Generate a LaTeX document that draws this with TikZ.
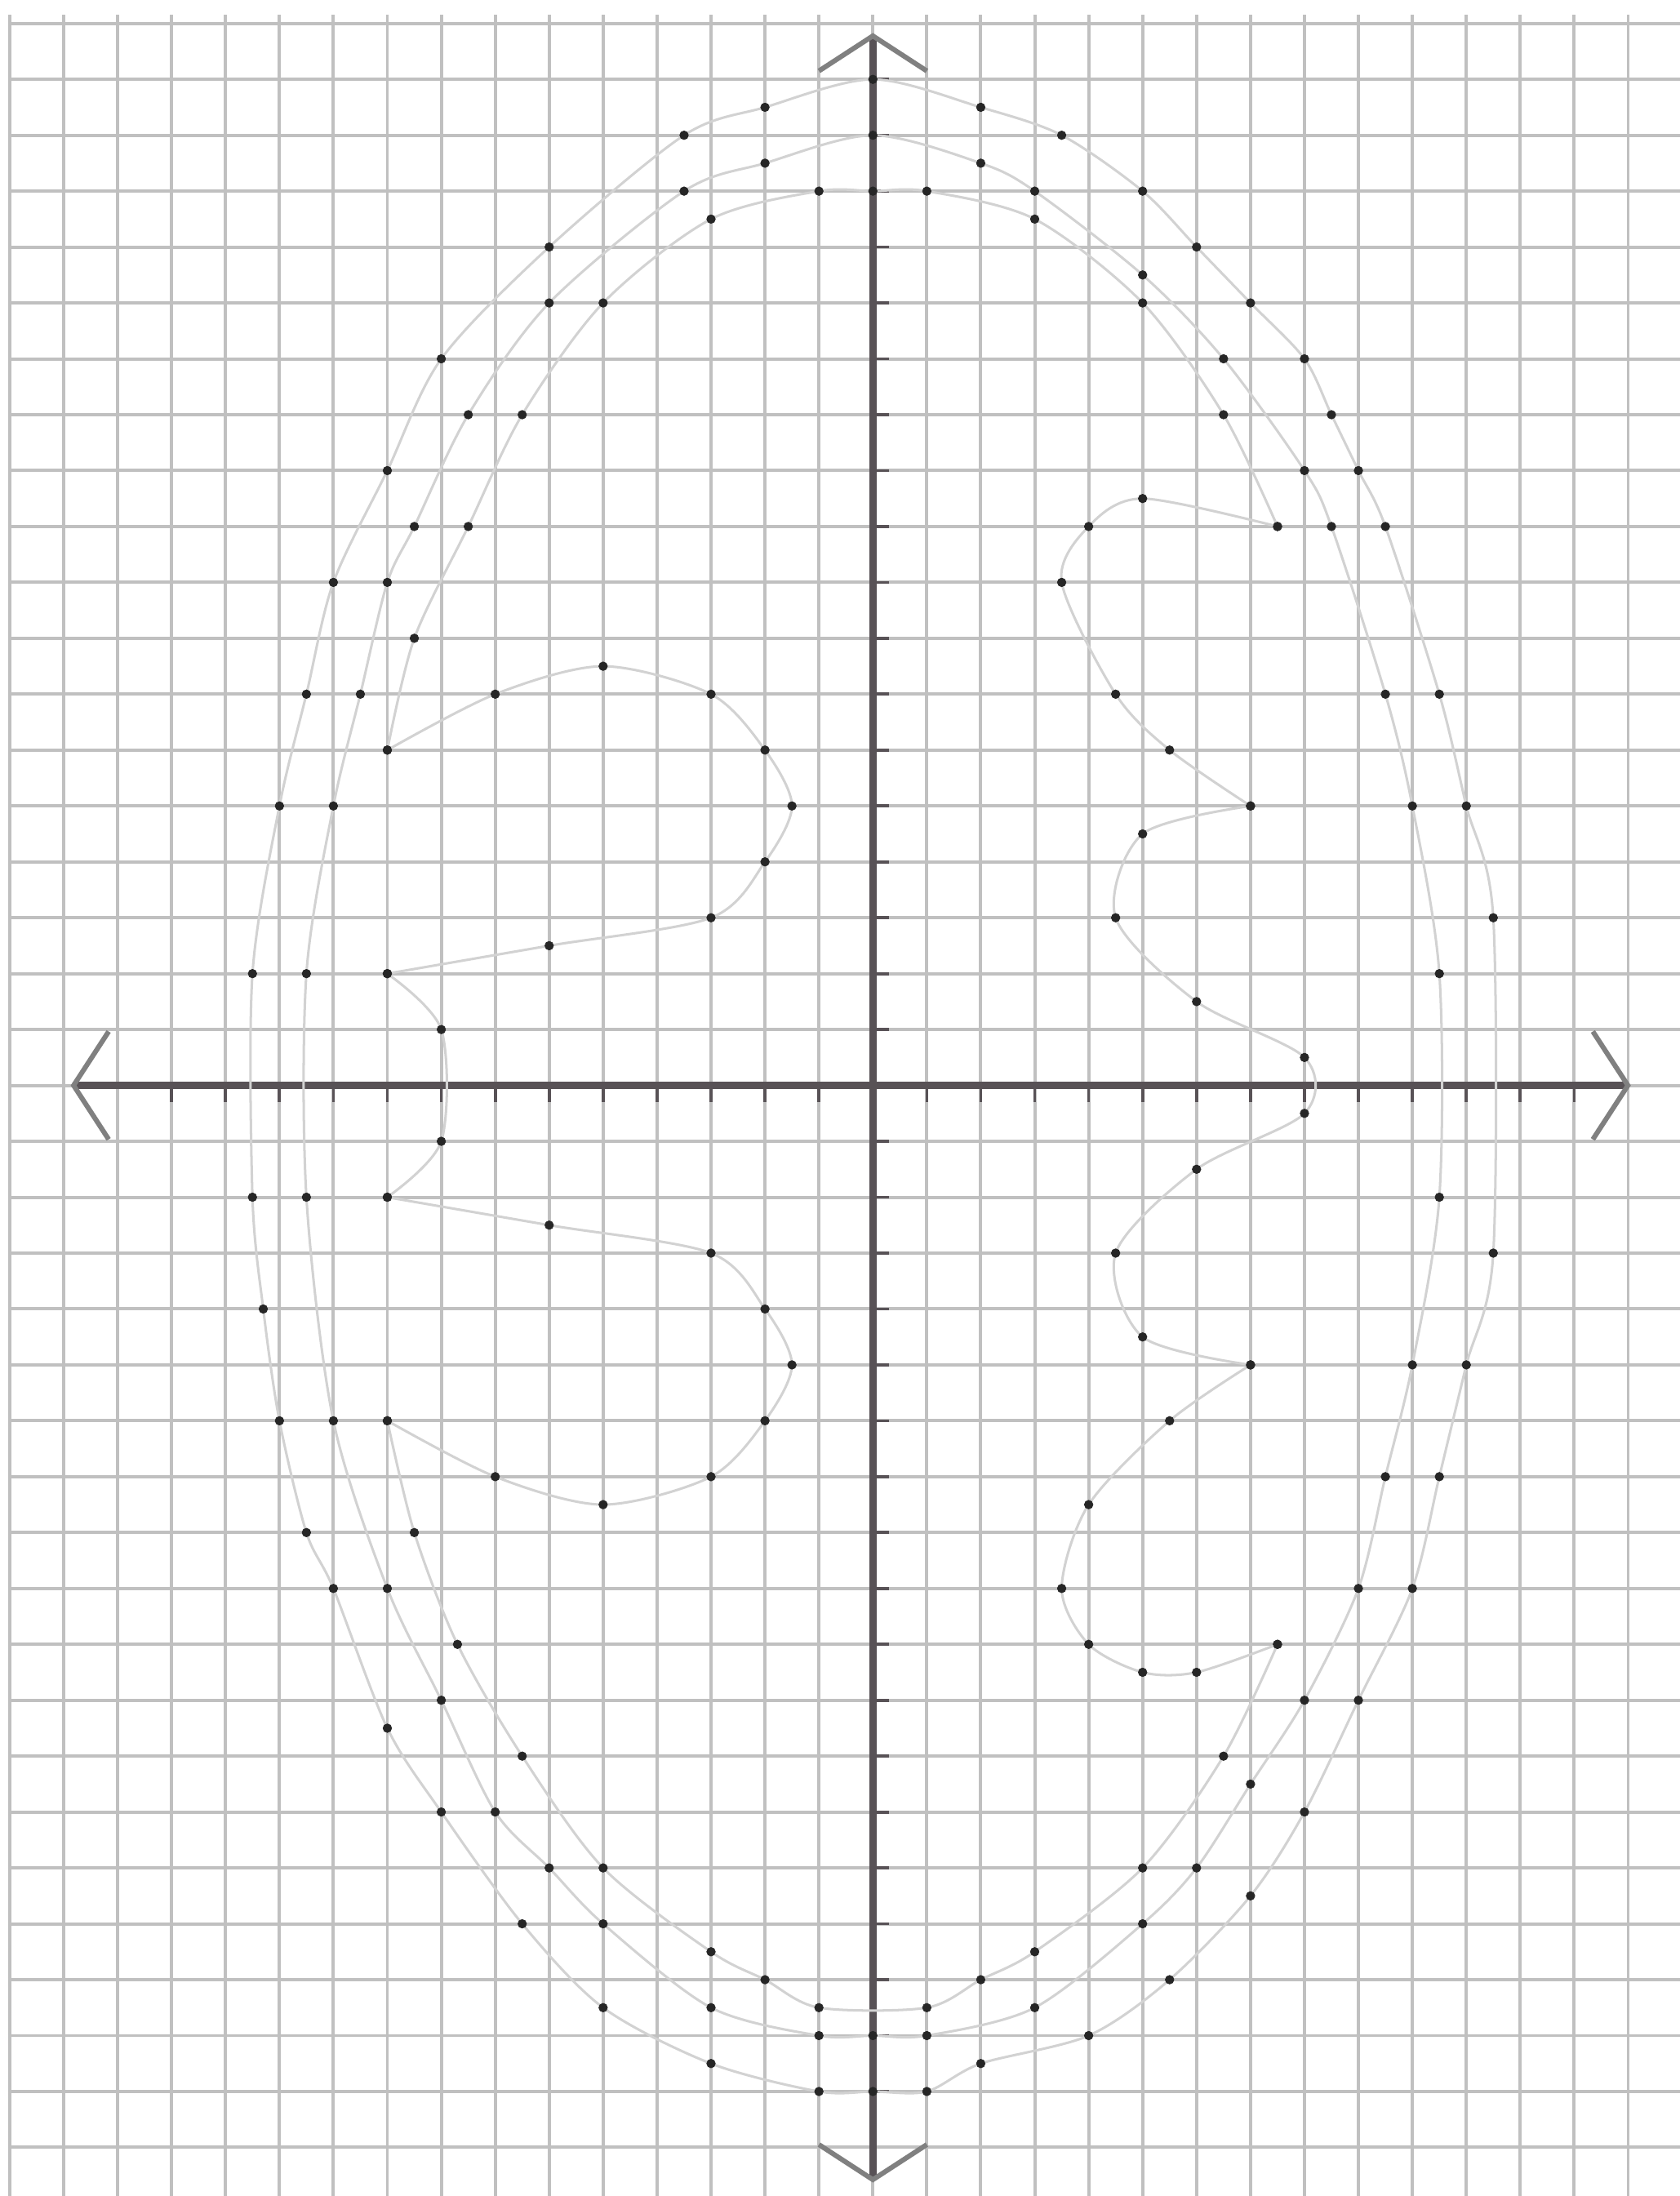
\documentclass[tikz,border=0pt]{standalone}
\usetikzlibrary{arrows.meta}

\definecolor{gridgray}{RGB}{192,192,192}
\definecolor{axisgray}{RGB}{88,82,86}
\definecolor{tipgray}{RGB}{128,128,128}
\definecolor{curvegray}{RGB}{210,210,210}

\tikzset{
    axistip/.tip={Straight Barb[length=6.5mm, width=20mm, line width=2.6pt, color=tipgray]},
}

\begin{document}
\begin{tikzpicture}[x=1cm, y=1.036cm,
        gridline/.style={draw=gridgray, line width=1.7pt},
        axisline/.style={draw=axisgray, line width=4pt, axistip-axistip},
        tickmark/.style={draw=axisgray, line width=1.6pt},
        curve/.style={draw=curvegray, line width=1.3pt, mark=*, mark size=0.8mm,
            mark options={draw=black!85, fill=black!85, line width=0.3pt}}]

    \useasboundingbox (-16.18,-19.87) rectangle (14.96,19.42);
    \fill[white] (-16.18,-19.87) rectangle (14.96,19.42);

    % grid
    \foreach \i in {-16,...,14}
        \draw[gridline] (\i,-19.87) -- (\i,19.15);
    \foreach \j in {-19,...,19}
        \draw[gridline] (-16,\j) -- (14.96,\j);

    % axes
    \draw[axisline] (-14.87,0) -- (14.05,0);
    \draw[axisline] (0,-19.63) -- (0,18.83);
    \foreach \i in {-13,...,-1,1,2,...,13}
        \draw[tickmark] (\i,0) -- (\i,-0.3);
    \foreach \j in {-18,...,-1,1,2,...,18}
        \draw[tickmark] (0,\j) -- (0.3,\j);

    % outer ring
    \draw[curve] plot[smooth cycle] coordinates {
        (0,18) (2,17.5) (3.5,17) (5,16) (6,15) (7,14) (8,13) (8.5,12) (9,11) (9.5,10)
        (10.5,7) (11,5) (11.5,3) (11.5,-3) (11,-5) (10.5,-7) (10,-9) (9,-11) (8,-13)
        (7,-14.5) (5.5,-16) (4,-17) (2,-17.5) (1,-18) (0,-18) (-1,-18) (-3,-17.5)
        (-5,-16.5) (-6.5,-15) (-8,-13) (-9,-11.5) (-10,-9) (-10.5,-8) (-11,-6)
        (-11.3,-4) (-11.5,-2) (-11.5,2) (-11,5) (-10.5,7) (-10,9) (-9,11) (-8,13)
        (-6,15) (-3.5,17) (-2,17.5)};

    % middle ring
    \draw[curve] plot[smooth cycle] coordinates {
        (0,17) (2,16.5) (3,16) (5,14.5) (6.5,13) (8,11) (8.5,10) (9.5,7) (10,5)
        (10.5,2) (10.5,-2) (10,-5) (9.5,-7) (9,-9) (8,-11) (7,-12.5) (6,-14) (5,-15)
        (3,-16.5) (1,-17) (0,-17) (-1,-17) (-3,-16.5) (-5,-15) (-6,-14) (-7,-13)
        (-8,-11) (-9,-9) (-10,-6) (-10.5,-2) (-10.5,2) (-10,5) (-9.5,7) (-9,9)
        (-8.5,10) (-7.5,12) (-6,14) (-3.5,16) (-2,16.5)};

    % inner outline with the loops
    \draw[curve] plot[smooth] coordinates {(7.5,10) (6.5,12) (5,14) (3,15.5) (1,16) (0,16)
        (-1,16) (-3,15.5) (-5,14) (-6.5,12) (-7.5,10) (-8.5,8) (-9,6)};
    \draw[curve] plot[smooth] coordinates {(-9,6) (-7,7) (-5,7.5) (-3,7) (-2,6) (-1.5,5)
        (-2,4) (-3,3) (-6,2.5) (-9,2)};
    \draw[curve] plot[smooth] coordinates {(-9,2) (-8,1) (-8,-1) (-9,-2)};
    \draw[curve] plot[smooth] coordinates {(-9,-2) (-6,-2.5) (-3,-3) (-2,-4) (-1.5,-5)
        (-2,-6) (-3,-7) (-5,-7.5) (-7,-7) (-9,-6)};
    \draw[curve] plot[smooth] coordinates {(-9,-6) (-8.5,-8) (-7.7,-10) (-6.5,-12) (-5,-14)
        (-3,-15.5) (-2,-16) (-1,-16.5) (1,-16.5) (2,-16) (3,-15.5) (5,-14) (6.5,-12) (7.5,-10)};
    \draw[curve] plot[smooth] coordinates {(7.5,-10) (6,-10.5) (5,-10.5) (4,-10) (3.5,-9)
        (4,-7.5) (5.5,-6) (7,-5)};
    \draw[curve] plot[smooth] coordinates {(7,-5) (5,-4.5) (4.5,-3) (6,-1.5) (8,-0.5)
        (8,0.5) (6,1.5) (4.5,3) (5,4.5) (7,5)};
    \draw[curve] plot[smooth] coordinates {(7,5) (5.5,6) (4.5,7) (3.5,9) (4,10) (5,10.5)
        (7.5,10)};
\end{tikzpicture}
\end{document}
